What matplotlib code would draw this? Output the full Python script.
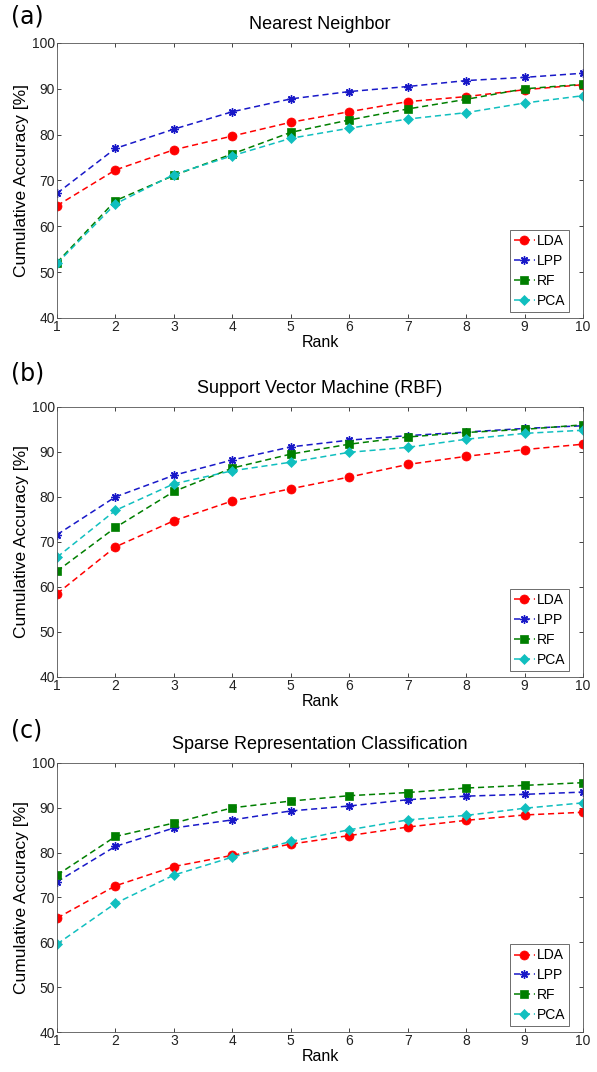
import matplotlib
matplotlib.use("Agg")
import matplotlib.pyplot as plt
import numpy as np

rank = np.arange(1, 11)
methods = ["LDA", "LPP", "RF", "PCA"]

# (a) Nearest Neighbor
nn_lda = [64.5, 72.3, 76.7, 79.7, 82.7, 85.0, 87.2, 88.3, 89.8, 90.9]
nn_lpp = [67.2, 77.0, 81.2, 85.0, 87.8, 89.4, 90.5, 91.8, 92.5, 93.4]
nn_rf = [52.1, 65.6, 71.1, 75.8, 80.5, 83.2, 85.6, 87.7, 90.0, 91.0]
nn_pca = [51.9, 64.9, 71.3, 75.4, 79.2, 81.4, 83.4, 84.8, 86.9, 88.5]

# (b) SVM (RBF)
svm_lda = [58.5, 68.9, 74.7, 79.1, 81.8, 84.4, 87.2, 89.0, 90.5, 91.7]
svm_lpp = [71.6, 80.0, 84.8, 88.2, 91.1, 92.6, 93.6, 94.4, 95.2, 95.8]
svm_rf = [63.5, 73.2, 81.2, 86.4, 89.5, 91.7, 93.3, 94.3, 95.0, 96.0]
svm_pca = [66.6, 77.0, 82.9, 85.8, 87.7, 89.9, 91.0, 92.8, 94.1, 94.8]

# (c) SRC
src_lda = [65.4, 72.6, 76.9, 79.4, 81.9, 83.8, 85.7, 87.2, 88.4, 89.0]
src_lpp = [73.5, 81.4, 85.5, 87.3, 89.3, 90.4, 91.8, 92.6, 93.0, 93.5]
src_rf = [75.0, 83.6, 86.6, 90.0, 91.5, 92.7, 93.4, 94.4, 95.0, 95.6]
src_pca = [59.6, 68.7, 75.0, 79.0, 82.5, 85.1, 87.3, 88.3, 89.9, 91.1]

panels = [
    ("(a)", "Nearest Neighbor", [nn_lda, nn_lpp, nn_rf, nn_pca]),
    ("(b)", "Support Vector Machine (RBF)", [svm_lda, svm_lpp, svm_rf, svm_pca]),
    ("(c)", "Sparse Representation Classification", [src_lda, src_lpp, src_rf, src_pca]),
]

colors = ["#ff0000", "#1818c8", "#007f00", "#10bfbf"]
markers = ["o", (8, 2, 0), "s", "D"]
msizes = [6.5, 6, 6, 5.5]

plt.rcParams["font.family"] = ["Liberation Sans", "DejaVu Sans"]

fig = plt.figure(figsize=(5.97, 10.72), dpi=100)

# axes boxes in figure fractions (left, bottom, width, height)
boxes = [
    (0.0955, 0.7034, 0.881, 0.2565),
    (0.0955, 0.3685, 0.881, 0.2520),
    (0.0955, 0.0373, 0.881, 0.2510),
]
label_y = [0.985, 0.652, 0.319]

for (tag, title, series), box, ly in zip(panels, boxes, label_y):
    ax = fig.add_axes(box)
    for vals, name, c, m, ms in zip(series, methods, colors, markers, msizes):
        ax.plot(rank, vals, linestyle="--", dashes=(4, 2.5), color=c, lw=1.1,
                marker=m, markersize=ms, markerfacecolor=c, markeredgecolor=c,
                markeredgewidth=1.0 if name == "LPP" else 0.5, label=name)
    ax.set_xlim(1, 10)
    ax.set_ylim(40, 100)
    ax.set_xticks(rank)
    ax.set_yticks(np.arange(40, 101, 10))
    ax.tick_params(direction="in", top=True, right=True, labelsize=10,
                   length=3, width=0.6, pad=1.5, colors="#222222")
    for sp in ax.spines.values():
        sp.set_linewidth(0.6)
        sp.set_color("#555555")
    ax.set_xlabel("Rank", fontsize=11.5, labelpad=1)
    ax.set_ylabel("Cumulative Accuracy [%]", fontsize=12.5, labelpad=2)
    ax.set_title(title, fontsize=13, pad=10)
    leg = ax.legend(loc="lower right", bbox_to_anchor=(0.974, 0.022),
                    fontsize=10, handlelength=1.5, handletextpad=0.15,
                    borderpad=0.3, labelspacing=0.42, fancybox=False,
                    framealpha=1, borderaxespad=0.0)
    leg.get_frame().set_edgecolor("#555555")
    leg.get_frame().set_linewidth(0.6)
    fig.text(0.018, ly, tag, fontsize=17, family="DejaVu Sans", va="center", ha="left")

fig.savefig("out.png", dpi=100)
